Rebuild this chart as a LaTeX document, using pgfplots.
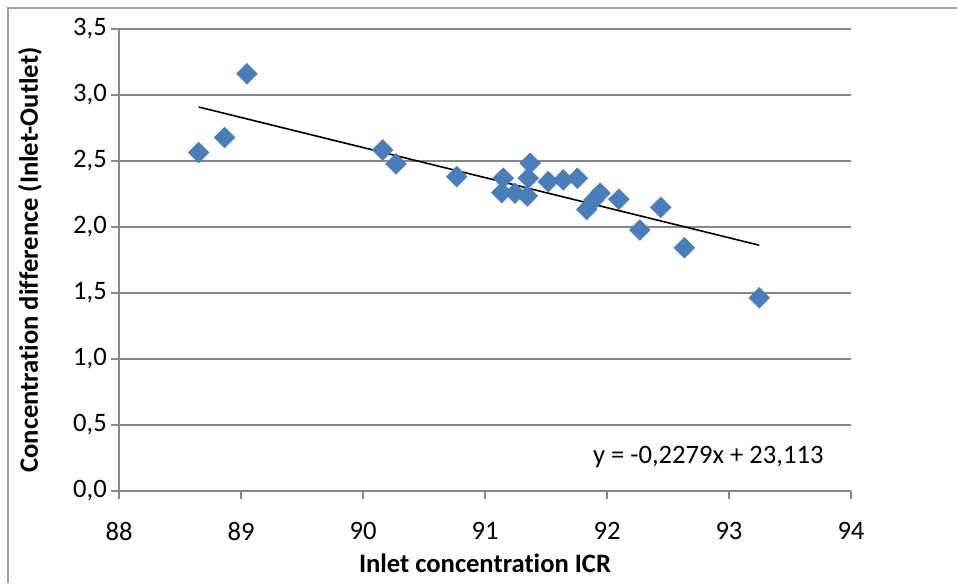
\documentclass[border=0pt]{standalone}
\usepackage{pgfplots}
\pgfplotsset{compat=1.18}
\usepackage{fontspec}
\setmainfont{Carlito}[Ligatures=NoCommon]
\definecolor{ptblue}{HTML}{4A7EBB}
\definecolor{gridgray}{HTML}{878787}
\begin{document}
\fontsize{13.3}{15}\selectfont
\begin{tikzpicture}
  \begin{axis}[
    at={(0,0)}, anchor=south west,
    scale only axis, width=366pt, height=231pt,
    xmin=88, xmax=94, ymin=0, ymax=3.5,
    xtick={88,89,...,94}, ytick={0,0.5,...,3.5},
    axis x line*=bottom, axis y line*=left,
    axis line style={gridgray, line width=0.9pt, -},
    ymajorgrids, grid style={gridgray, line width=0.9pt},
    tick align=outside, major tick length=4pt,
    tick style={gridgray, line width=0.9pt},
    /pgf/number format/assume math mode=true,
    yticklabel style={/pgf/number format/use comma, /pgf/number format/fixed,
      /pgf/number format/fixed zerofill, /pgf/number format/precision=1, xshift=2.5pt},
    xticklabel style={yshift=-7pt},
    xlabel={\bfseries Inlet concentration ICR},
    ylabel={\bfseries Concentration difference (Inlet-Outlet)},
    xlabel style={at={(axis description cs:0.5,-0.156)}, anchor=center},
    ylabel style={at={(axis description cs:-0.1216,0.5)}, anchor=center},
  ]
    % measured points
    \addplot[only marks, mark=square*, mark size=3.6pt,
      mark options={rotate=45, fill=ptblue, draw=ptblue}] coordinates {
      (88.653,2.564) (88.866,2.678) (89.049,3.161) (90.161,2.584)
      (90.270,2.478) (90.768,2.382) (91.150,2.370) (91.137,2.260)
      (91.246,2.256) (91.347,2.235) (91.355,2.370) (91.369,2.483)
      (91.519,2.344) (91.642,2.357) (91.757,2.370) (91.834,2.134)
      (91.893,2.205) (91.943,2.256) (92.098,2.210) (92.270,1.977)
      (92.440,2.149) (92.634,1.843) (93.248,1.464)
    };
    % linear trend line
    \addplot[black, line width=0.8pt] coordinates {(88.653,2.909) (93.248,1.862)};
    \node at (axis cs:92.83,0.26) {y = -0,2279x + 23,113};
  \end{axis}
  \draw[gridgray!80, line width=0.6pt] (-55.5pt,-46pt) -- (-55.5pt,241.5pt) -- (419pt,241.5pt);
  \pgfresetboundingbox
  \path[use as bounding box] (-59.5pt,-46pt) rectangle (419pt,245.5pt);
\end{tikzpicture}
\end{document}
